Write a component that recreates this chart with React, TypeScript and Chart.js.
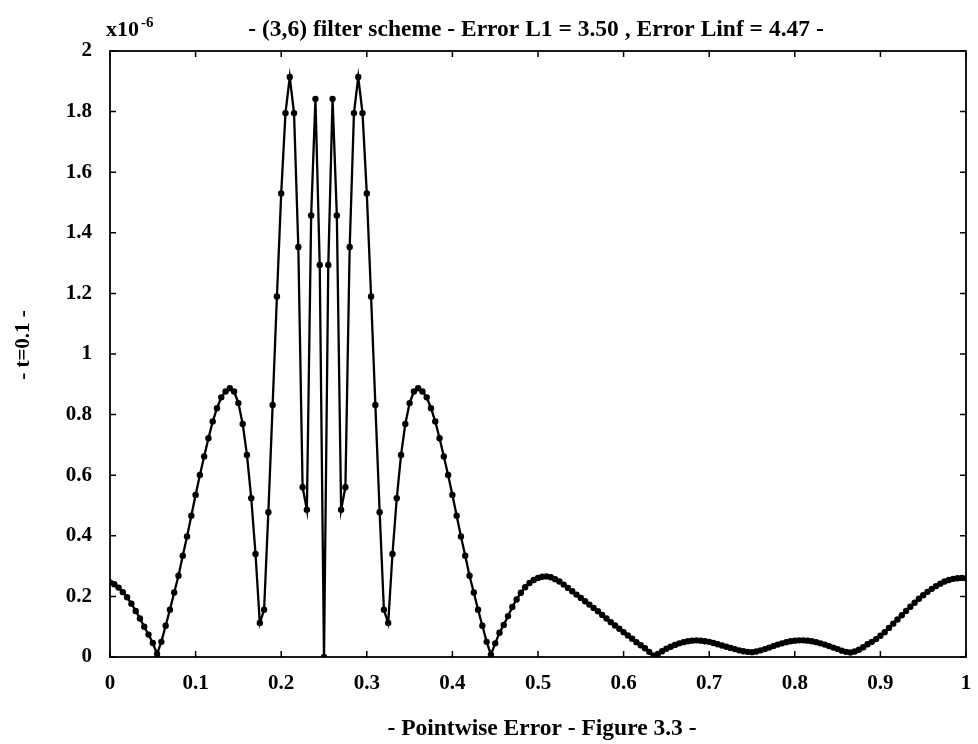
import React, { useEffect, useRef } from 'react';
import { Chart, registerables } from 'chart.js';

Chart.register(...registerables);

// x positions of the computed grid points
const gridX: number[] = [
  0, 0.005, 0.01, 0.015, 0.02, 0.025, 0.03, 0.035, 0.04, 0.045,
  0.05, 0.055, 0.06, 0.065, 0.07, 0.075, 0.08, 0.085, 0.09, 0.095,
  0.1, 0.105, 0.11, 0.115, 0.12, 0.125, 0.13, 0.135, 0.14, 0.145,
  0.15, 0.155, 0.16, 0.165, 0.17, 0.175, 0.18, 0.185, 0.19, 0.195,
  0.2, 0.205, 0.21, 0.215, 0.22, 0.225, 0.23, 0.235, 0.24, 0.245,
  0.25, 0.255, 0.26, 0.265, 0.27, 0.275, 0.28, 0.285, 0.29, 0.295,
  0.3, 0.305, 0.31, 0.315, 0.32, 0.325, 0.33, 0.335, 0.34, 0.345,
  0.35, 0.355, 0.36, 0.365, 0.37, 0.375, 0.38, 0.385, 0.39, 0.395,
  0.4, 0.405, 0.41, 0.415, 0.42, 0.425, 0.43, 0.435, 0.44, 0.445,
  0.45, 0.455, 0.46, 0.465, 0.47, 0.475, 0.48, 0.485, 0.49, 0.495,
  0.5, 0.505, 0.51, 0.515, 0.52, 0.525, 0.53, 0.535, 0.54, 0.545,
  0.55, 0.555, 0.56, 0.565, 0.57, 0.575, 0.58, 0.585, 0.59, 0.595,
  0.6, 0.605, 0.61, 0.615, 0.62, 0.625, 0.63, 0.635, 0.64, 0.645,
  0.65, 0.655, 0.66, 0.665, 0.67, 0.675, 0.68, 0.685, 0.69, 0.695,
  0.7, 0.705, 0.71, 0.715, 0.72, 0.725, 0.73, 0.735, 0.74, 0.745,
  0.75, 0.755, 0.76, 0.765, 0.77, 0.775, 0.78, 0.785, 0.79, 0.795,
  0.8, 0.805, 0.81, 0.815, 0.82, 0.825, 0.83, 0.835, 0.84, 0.845,
  0.85, 0.855, 0.86, 0.865, 0.87, 0.875, 0.88, 0.885, 0.89, 0.895,
  0.9, 0.905, 0.91, 0.915, 0.92, 0.925, 0.93, 0.935, 0.94, 0.945,
  0.95, 0.955, 0.96, 0.965, 0.97, 0.975, 0.98, 0.985, 0.99, 0.995,
  1.0,
];

// pointwise error (x1e-6), region 0 .. 0.245
const errorLeft: number[] = [
  0.246, 0.240, 0.229, 0.214, 0.197, 0.176, 0.152, 0.127, 0.100, 0.074,
  0.046, 0.010, 0.050, 0.103, 0.156, 0.213, 0.268, 0.334, 0.398, 0.466,
  0.535, 0.601, 0.662, 0.722, 0.777, 0.821, 0.857, 0.876, 0.887, 0.876,
  0.838, 0.769, 0.667, 0.524, 0.340, 0.112, 0.156, 0.478, 0.832, 1.190,
  1.530, 1.795, 1.914, 1.795, 1.353, 0.560, 0.486, 1.457, 1.842, 1.294,
];

// region 0.25 .. 0.495
const errorMid: number[] = [
  0.000, 1.294, 1.842, 1.457, 0.486, 0.560, 1.353, 1.795, 1.914, 1.795,
  1.530, 1.190, 0.832, 0.478, 0.156, 0.112, 0.340, 0.524, 0.667, 0.769,
  0.838, 0.876, 0.887, 0.876, 0.857, 0.821, 0.777, 0.722, 0.662, 0.601,
  0.535, 0.466, 0.398, 0.334, 0.268, 0.213, 0.156, 0.103, 0.050, 0.008,
  0.045, 0.080, 0.106, 0.135, 0.165, 0.190, 0.212, 0.230, 0.244, 0.254,
];

// region 0.5 .. 0.745
const errorRight: number[] = [
  0.261, 0.265, 0.266, 0.263, 0.257, 0.249, 0.239, 0.228, 0.217, 0.206,
  0.195, 0.184, 0.173, 0.162, 0.151, 0.139, 0.127, 0.115, 0.104, 0.093,
  0.082, 0.071, 0.060, 0.049, 0.039, 0.029, 0.017, 0.004, 0.010, 0.019,
  0.027, 0.034, 0.040, 0.045, 0.049, 0.052, 0.054, 0.055, 0.054, 0.052,
  0.050, 0.046, 0.042, 0.038, 0.034, 0.030, 0.026, 0.022, 0.019, 0.017,
];

// region 0.75 .. 1.0
const errorEnd: number[] = [
  0.016, 0.018, 0.022, 0.026, 0.031, 0.036, 0.041, 0.045, 0.049, 0.052,
  0.054, 0.055, 0.055, 0.054, 0.052, 0.049, 0.045, 0.041, 0.036, 0.031,
  0.026, 0.021, 0.017, 0.015, 0.018, 0.024, 0.032, 0.042, 0.050, 0.059,
  0.070, 0.082, 0.096, 0.110, 0.124, 0.138, 0.152, 0.166, 0.179, 0.192,
  0.204, 0.215, 0.225, 0.234, 0.242, 0.249, 0.254, 0.258, 0.260, 0.261,
  0.260,
];

const xTickValues: number[] = [0, 0.1, 0.2, 0.3, 0.4, 0.5, 0.6, 0.7, 0.8, 0.9, 1];
const xTickLabels: string[] = ['0', '0.1', '0.2', '0.3', '0.4', '0.5', '0.6', '0.7', '0.8', '0.9', '1'];
const yTickValues: number[] = [0, 0.2, 0.4, 0.6, 0.8, 1, 1.2, 1.4, 1.6, 1.8, 2];
const yTickLabels: string[] = ['0', '0.2', '0.4', '0.6', '0.8', '1', '1.2', '1.4', '1.6', '1.8', '2'];

const chartTitle = '- (3,6) filter scheme - Error L1 = 3.50 , Error Linf = 4.47 -';
const xAxisTitle = '- Pointwise Error - Figure 3.3 -';
const yAxisTitle = '- t=0.1 -';
const scaleBase = 'x10';
const scaleExp = '-6';

const SERIF = "'Liberation Serif', 'Times New Roman', serif";

export default function App() {
  const canvasRef = useRef<HTMLCanvasElement | null>(null);

  useEffect(() => {
    const canvas = canvasRef.current;
    if (!canvas) return;
    const errors = [...errorLeft, ...errorMid, ...errorRight, ...errorEnd];
    const points = gridX.map((x, i) => ({ x, y: errors[i] }));

    const framePlugin = {
      id: 'frameAndText',
      afterDraw(chart: any) {
        const ctx: CanvasRenderingContext2D = chart.ctx;
        const { left, right, top, bottom } = chart.chartArea;
        const xs = chart.scales.x;
        const ys = chart.scales.y;
        ctx.save();
        ctx.strokeStyle = '#000';
        ctx.lineWidth = 1.8;
        ctx.strokeRect(left, top, right - left, bottom - top);
        ctx.lineWidth = 1.5;
        const tl = 6;
        ctx.beginPath();
        xTickValues.forEach((v) => {
          const px = xs.getPixelForValue(v);
          ctx.moveTo(px, bottom);
          ctx.lineTo(px, bottom - tl);
          ctx.moveTo(px, top);
          ctx.lineTo(px, top + tl);
        });
        yTickValues.forEach((v) => {
          const py = ys.getPixelForValue(v);
          ctx.moveTo(left, py);
          ctx.lineTo(left + tl, py);
          ctx.moveTo(right, py);
          ctx.lineTo(right - tl, py);
        });
        ctx.stroke();

        ctx.fillStyle = '#000';
        // main title
        ctx.font = `bold 23.5px ${SERIF}`;
        ctx.textAlign = 'center';
        ctx.textBaseline = 'alphabetic';
        ctx.fillText(chartTitle, 536, 36);
        // scale factor
        ctx.font = `bold 22px ${SERIF}`;
        ctx.textAlign = 'left';
        ctx.fillText(scaleBase, 106, 36);
        const w = ctx.measureText(scaleBase).width;
        ctx.font = `bold 15px ${SERIF}`;
        ctx.fillText(scaleExp, 106 + w + 2, 27);
        // x-axis title
        ctx.font = `bold 23.5px ${SERIF}`;
        ctx.textAlign = 'center';
        ctx.fillText(xAxisTitle, 542, 735);
        // y-axis title
        ctx.translate(24, 345);
        ctx.rotate(-Math.PI / 2);
        ctx.font = `bold 21px ${SERIF}`;
        ctx.textBaseline = 'middle';
        ctx.fillText(yAxisTitle, 0, 0);
        ctx.restore();
      },
    };

    const chart = new Chart(canvas, {
      type: 'line',
      data: {
        datasets: [
          {
            data: points,
            borderColor: '#000',
            backgroundColor: '#000',
            borderWidth: 2.3,
            pointRadius: 3.2,
            pointBackgroundColor: '#000',
            pointBorderWidth: 0,
            tension: 0,
            fill: false,
          },
        ],
      },
      options: {
        animation: false,
        responsive: false,
        devicePixelRatio: 1,
        layout: { padding: { top: 51, right: 12, left: 0, bottom: 0 } },
        plugins: {
          legend: { display: false },
          tooltip: { enabled: false },
          title: { display: false },
        },
        scales: {
          x: {
            type: 'linear',
            min: 0,
            max: 1,
            grid: { display: false },
            border: { display: false },
            afterBuildTicks: (s: any) => {
              s.ticks = xTickValues.map((v) => ({ value: v }));
            },
            afterFit: (s: any) => {
              s.height = 87;
            },
            ticks: {
              autoSkip: false,
              maxRotation: 0,
              padding: 6,
              color: '#000',
              font: { family: SERIF, size: 21, weight: 'bold' },
              callback: (_v: any, i: number) => xTickLabels[i],
            },
          },
          y: {
            type: 'linear',
            min: 0,
            max: 2,
            grid: { display: false },
            border: { display: false },
            afterBuildTicks: (s: any) => {
              s.ticks = yTickValues.map((v) => ({ value: v }));
            },
            afterFit: (s: any) => {
              s.width = 110;
            },
            ticks: {
              autoSkip: false,
              padding: 10,
              color: '#000',
              font: { family: SERIF, size: 21, weight: 'bold' },
              callback: (_v: any, i: number) => yTickLabels[i],
            },
          },
        },
      },
      plugins: [framePlugin],
    } as any);

    return () => {
      chart.destroy();
    };
  }, []);

  return (
    <div style={{ position: 'absolute', left: 0, top: 0, width: 978, height: 744, background: '#fff' }}>
      <canvas ref={canvasRef} width={978} height={744} style={{ display: 'block' }} />
    </div>
  );
}
